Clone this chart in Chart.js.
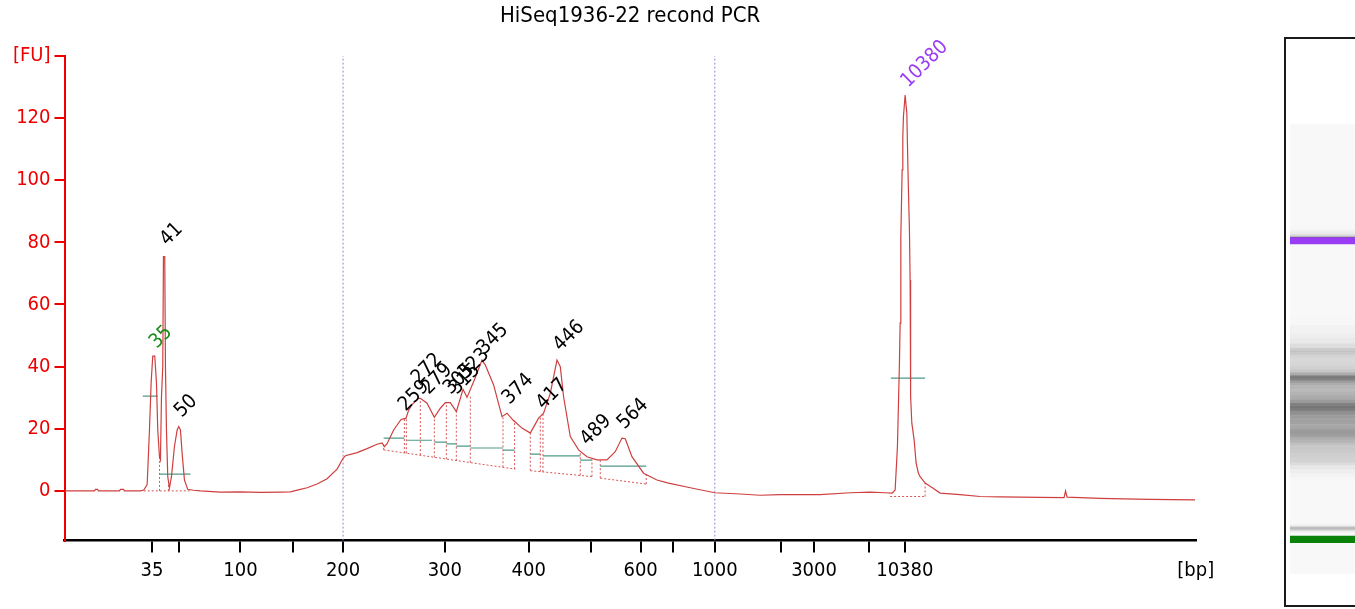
<!DOCTYPE html>
<html>
<head>
<meta charset="utf-8">
<title>HiSeq1936-22 recond PCR</title>
<script src="https://cdn.jsdelivr.net/npm/chart.js@4.4.1/dist/chart.umd.min.js"></script>
<style>
  html, body { margin: 0; padding: 0; background: #fff; overflow: hidden; }
  #main { position: absolute; left: 0; top: 0; width: 1260px; height: 609px; }
  #gel { position: absolute; left: 1284px; top: 37px; width: 80px; height: 566px; border: 2px solid #1a1a1a; background: #fff; }
</style>
</head>
<body>
<div id="main"><canvas id="traceChart"></canvas></div>
<div id="gel"><canvas id="gelChart"></canvas></div>
<script>
// Electropherogram trace: migration time [s] and fluorescence [FU]
const traceTime = [
  30.0, 31.55, 32.95, 33.05, 33.25, 33.35, 35.45, 35.55, 35.85, 35.95, 37.55, 37.88,
  38.22, 38.45, 38.62, 38.78, 38.98, 39.15, 39.28, 39.45, 39.55, 39.65, 39.78, 39.85,
  39.98, 40.05, 40.15, 40.28, 40.45, 40.65, 40.95, 41.22, 41.38, 41.55, 41.72, 41.95,
  42.28, 42.85, 43.55, 45.55, 47.55, 49.55, 51.55, 52.55, 53.55, 54.22, 55.22, 56.22,
  57.22, 57.82, 58.05, 59.22, 60.22, 61.22, 61.72, 61.95, 62.22, 62.88, 63.62, 64.12,
  64.38, 64.72, 65.38, 65.55, 66.22, 66.95, 67.55, 68.05, 68.55, 69.15, 69.82, 70.22,
  70.95, 71.72, 72.05, 72.88, 73.72, 74.22, 74.82, 75.72, 76.55, 77.38, 77.88, 78.55,
  79.22, 79.55, 79.88, 80.55, 81.38, 82.22, 83.22, 84.22, 85.05, 85.72, 86.05, 86.72,
  87.88, 89.22, 90.38, 92.55, 95.01, 97.55, 99.55, 101.55, 105.55, 108.55, 110.55, 112.05,
  112.75, 113.05, 113.28, 113.48, 113.55, 113.62, 113.75, 113.82, 113.88, 114.05, 114.22, 114.32,
  114.38, 114.48, 114.55, 114.58, 114.62, 114.72, 114.95, 115.15, 115.38, 115.55, 116.05,
  116.55, 117.55, 119.55, 121.55, 123.55, 127.55, 129.95, 130.1, 130.25,
  133.55, 138.55, 143.05
];
const traceFU = [
  0, 0, 0, 0.5, 0.5, 0, 0, 0.5, 0.5, 0, 0, 0.3,
  2, 19.6, 35, 43.4, 43.4, 34.8, 19.6, 11, 10, 30, 40, 75.4,
  75.4, 40, 19.6, 4.6, 1, 4.6, 14.3, 19.6, 20.7, 19.6, 12, 3.5,
  0.5, 0.2, 0, -0.4, -0.3, -0.5, -0.4, -0.3, 0.5, 1, 2.2, 3.9,
  7, 10.5, 11.3, 12.3, 13.6, 15, 15.4, 14.2, 15.2, 19.6, 23, 23.4,
  26, 27.8, 29.8, 29.8, 28.2, 23.7, 26.6, 28.4, 28.4, 25.5, 32.7, 30.1,
  35.7, 42.1, 40.5, 34.1, 23.9, 25, 22.8, 20.2, 18.6, 23.4, 25, 31.4,
  42.1, 40, 30.3, 17.5, 13.2, 11, 10, 10, 12.6, 17, 16.8, 11,
  5.7, 3.5, 2.5, 1, -0.6, -1, -1.4, -1.2, -1.2, -0.6, -0.4, -0.6,
  -0.7, 0.3, 14.3, 41.1, 54, 81.8, 103.3, 114, 120.4, 127.4, 121.5, 105.4,
  96.8, 84, 67.9, 51.8, 30.3, 21.8, 16.4, 8.9, 5.7, 4.6, 2.5,
  1.5, -0.7, -1.2, -1.8, -1.9, -2.1, -2.2, 0, -2.0,
  -2.4, -2.7, -2.9
];

// Size axis: tick positions (migration time) and their bp labels
const xTickTime = [38.71, 41.39, 47.55, 52.82, 57.82, 68.0, 76.39, 82.59, 87.59, 90.81, 95.01, 101.61, 104.94, 110.43, 114.02, 143.13];
const xTickLabel = ['35', '', '100', '', '200', '300', '400', '', '600', '', '1000', '', '3000', '', '10380', '[bp]'];
const yTickValue = [0, 20, 40, 60, 80, 100, 120, 140];

// Called peaks
const peakLabel = ['35', '41', '50', '259', '272', '279', '305', '315', '323', '345', '374', '417', '446', '489', '564', '10380'];
const peakKind = ['lower', 'sample', 'sample', 'sample', 'sample', 'sample', 'sample', 'sample', 'sample', 'sample', 'sample', 'sample', 'sample', 'sample', 'sample', 'upper'];
const peakTime = [38.88, 39.92, 41.38, 63.78, 65.08, 66.08, 68.28, 68.88, 69.78, 71.68, 74.18, 77.58, 79.28, 81.98, 85.68, 114.05];
const peakFU = [43.4, 76.5, 21.2, 23.2, 31.9, 28.6, 28.6, 28.6, 33.5, 41.5, 25.4, 23.8, 42.5, 12.2, 17.4, 127.4];

// Integration baselines under peak groups
const baseStartTime = [37.88, 61.88, 76.55, 83.55, 112.55];
const baseStartFU = [0, 13.2, 6.5, 4.1, -1.8];
const baseEndTime = [42.55, 75.05, 82.72, 88.15, 116.15];
const baseEndFU = [0, 7, 4.6, 2.2, -1.8];

// Peak boundaries (drop lines from baseline up to the trace)
const dropTime = [39.45, 40.35, 61.88, 63.95, 64.15, 65.55, 66.95, 68.15, 69.15, 70.55, 73.82, 74.98, 76.55, 77.55, 77.82, 81.55, 82.72, 83.55, 88.15, 116.05];
const dropLowFU = [0, 0, 13.2, 12.2, 12.1, 11.5, 10.8, 10.2, 9.7, 9.1, 7.6, 7.0, 6.5, 6.2, 6.1, 5.0, 4.6, 4.1, 2.2, -1.8];
const dropHighFU = [11, 3, 15, 23.2, 23.5, 29.8, 23.7, 28.4, 25.5, 31, 24, 22.6, 18.6, 23.6, 25.5, 12.8, 10.2, 10, 5.6, 2.5];

// Half-height width bars of integrated peaks
const widthStartTime = [37.78, 39.45, 61.88, 64.22, 66.95, 68.15, 69.15, 70.55, 73.82, 76.55, 77.82, 81.55, 83.55, 112.62];
const widthEndTime = [39.28, 42.55, 63.95, 66.72, 68.15, 69.15, 70.55, 73.82, 74.98, 77.55, 81.55, 82.72, 88.15, 116.05];
const widthFU = [30.5, 5.4, 17, 16.3, 15.7, 15.1, 14.4, 13.8, 13.1, 11.8, 11.3, 9.9, 8, 36.3];

// Region of interest 200 - 1000 bp
const regionTime = [57.82, 95.01];

// Gel lane marker bands (migration time range)
const lowerMarkerBand = [37.8, 39.47];
const upperMarkerBand = [113.01, 114.65];

const FONT = '"DejaVu Sans Condensed", "DejaVu Sans", sans-serif';
Chart.defaults.font.family = FONT;
Chart.defaults.animation = false;

function segments(x0, y0, x1, y1) {
    const pts = [];
    x0.forEach((x, i) => {
        pts.push({ x: x, y: y0[i] }, { x: x1[i], y: y1[i] }, { x: x1[i], y: null });
    });
    return pts;
}

const lineStyle = { pointRadius: 0, pointHoverRadius: 0, fill: false, tension: 0, spanGaps: false };

// Rotated peak size labels
const peakLabels = {
    id: 'peakLabels',
    afterDatasetsDraw(chart) {
        const { ctx, scales: { x, y } } = chart;
        ctx.save();
        ctx.font = '20px ' + FONT;
        ctx.textAlign = 'left';
        ctx.textBaseline = 'alphabetic';
        peakLabel.forEach((txt, i) => {
            ctx.fillStyle = peakKind[i] === 'lower' ? '#1a8c1a' : (peakKind[i] === 'upper' ? '#9b3cf5' : '#000');
            ctx.save();
            ctx.translate(x.getPixelForValue(peakTime[i]) + 3, y.getPixelForValue(peakFU[i]) - 7);
            ctx.rotate(-Math.PI / 4);
            ctx.fillText(txt, 0, 0);
            ctx.restore();
        });
        ctx.restore();
    }
};

new Chart(document.getElementById('traceChart'), {
    type: 'line',
    data: {
        datasets: [
            {
                ...lineStyle,
                data: traceTime.map((t, i) => ({ x: t, y: traceFU[i] })),
                borderColor: '#cf3f3f',
                borderWidth: 1.2
            },
            {
                ...lineStyle,
                data: segments(widthStartTime, widthFU, widthEndTime, widthFU),
                borderColor: '#4f9a88',
                borderWidth: 1.2
            },
            {
                ...lineStyle,
                data: segments(baseStartTime, baseStartFU, baseEndTime, baseEndFU)
                    .concat(segments(dropTime, dropLowFU, dropTime, dropHighFU)),
                borderColor: '#d85555',
                borderWidth: 1,
                borderDash: [2, 2]
            },
            {
                ...lineStyle,
                data: segments(regionTime, regionTime.map(() => -16), regionTime, regionTime.map(() => 140)),
                borderColor: '#8a8acc',
                borderWidth: 1,
                borderDash: [2, 2]
            }
        ]
    },
    options: {
        responsive: true,
        maintainAspectRatio: false,
        events: [],
        layout: { padding: { left: 0, right: 64.2, top: 0, bottom: 0 } },
        plugins: {
            legend: { display: false },
            tooltip: { enabled: false },
            title: {
                display: true,
                fullSize: false,
                text: 'HiSeq1936-22 recond PCR',
                color: '#000',
                font: { size: 22, weight: 'normal' },
                padding: { top: 2.8, bottom: 26.7 }
            }
        },
        scales: {
            x: {
                type: 'linear',
                min: 29.95,
                max: 143.13,
                afterBuildTicks: (scale) => {
                    scale.ticks = xTickTime.map(v => ({ value: v }));
                },
                afterFit: (scale) => { scale.height = 68.4; },
                border: { color: '#000', width: 2.5 },
                grid: {
                    drawOnChartArea: false,
                    drawTicks: true,
                    tickLength: 12,
                    lineWidth: 2,
                    color: (c) => (xTickLabel[c.index] === '[bp]' ? 'rgba(0,0,0,0)' : '#000')
                },
                ticks: {
                    autoSkip: false,
                    maxRotation: 0,
                    color: '#000',
                    padding: 6,
                    font: { size: 20 },
                    callback: (value, index) => xTickLabel[index]
                }
            },
            y: {
                type: 'linear',
                min: -16,
                max: 140,
                afterBuildTicks: (scale) => {
                    scale.ticks = yTickValue.map(v => ({ value: v }));
                },
                afterFit: (scale) => { scale.width = 64.5; },
                border: { color: '#ee0000', width: 2 },
                grid: {
                    drawOnChartArea: false,
                    drawTicks: true,
                    tickLength: 10,
                    lineWidth: 2,
                    color: '#ee0000'
                },
                ticks: {
                    color: '#ee0000',
                    padding: 4,
                    font: { size: 20 },
                    callback: (value) => (value === 140 ? '[FU]' : value)
                }
            }
        }
    },
    plugins: [peakLabels]
});

// Gel-like lane: each trace interval becomes a grey band, darker for higher FU
const laneSets = [
    { data: [upperMarkerBand], backgroundColor: '#9b3cf5' },
    { data: [lowerMarkerBand], backgroundColor: '#0a820a' }
];
for (let i = 0; i < traceTime.length - 1; i++) {
    if (traceTime[i] < 40.3) continue; // marker peaks are shown as coloured bands
    const fu = Math.max(0, (traceFU[i] + traceFU[i + 1]) / 2);
    const g = Math.round(248 - Math.min(fu, 50) * 3.2);
    laneSets.push({ data: [[traceTime[i], traceTime[i + 1]]], backgroundColor: `rgb(${g},${g},${g})` });
}
laneSets.push({ data: [[traceTime[0], traceTime[traceTime.length - 1]]], backgroundColor: '#f8f8f8' });
laneSets.forEach(ds => {
    ds.grouped = false;
    ds.barPercentage = 1;
    ds.categoryPercentage = 1;
    ds.borderWidth = 0;
});

new Chart(document.getElementById('gelChart'), {
    type: 'bar',
    data: { labels: ['lane'], datasets: laneSets },
    options: {
        responsive: true,
        maintainAspectRatio: false,
        events: [],
        layout: { padding: { left: 4, right: 0, top: 0, bottom: 0 } },
        plugins: { legend: { display: false }, tooltip: { enabled: false } },
        scales: {
            x: { display: false },
            y: { display: false, min: 22.09, max: 164.65 }
        }
    }
});
</script>
</body>
</html>
